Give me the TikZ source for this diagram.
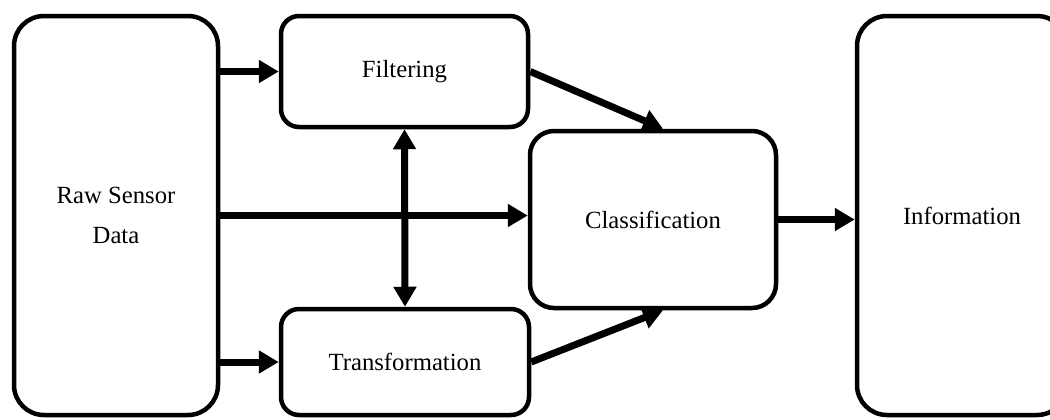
\documentclass[tikz,border=0pt]{standalone}
\usepackage{fontspec}
\setmainfont{Liberation Serif}
\usetikzlibrary{arrows.meta, calc}

\tikzset{
	block/.style={draw, line width=2.25pt, rounded corners=#1, align=center, inner sep=0pt,
		font=\fontsize{12.35}{20}\selectfont},
	block/.default=9pt,
	flow/.style={line width=3.5pt, -{Triangle[length=10pt, width=11pt]}},
	flowboth/.style={line width=3.5pt, {Triangle[length=10pt, width=11pt]}-{Triangle[length=10pt, width=11pt]}}
}

\begin{document}
\begin{tikzpicture}[x=0.5pt, y=-0.5pt]
	\useasboundingbox (0,0) rectangle (1050,419);
	\node (raw) at (116,215.5) [block=15pt, minimum width=102pt, minimum height=199.5pt] {Raw Sensor\\Data};
	\node (filt) at (404.5,71.5) [block, minimum width=123.5pt, minimum height=55.5pt] {Filtering};
	\node (transf) at (405,362) [block, minimum width=124pt, minimum height=53pt] {Transformation};
	\node (clas) at (653,219.5) [block=12pt, minimum width=123pt, minimum height=88.5pt] {Classification};
	\node (info) at (962,215.5) [block=15pt, minimum width=105pt, minimum height=199.5pt] {Information};
	\draw [flow] (filt.west -| raw.east) -- (filt.west);
	\draw [flow] (transf.west -| raw.east) -- (transf.west);
	\draw [flow] (raw.east) -- (raw.east -| clas.west);
	\draw [flow] (filt.east) -- ($(clas.north)+(10,0)$);
	\draw [flow] (transf.east) -- ($(clas.south)+(10,0)$);
	\draw [flowboth] (filt.south) -- (transf.north);
	\draw [flow] (clas.east) -- (clas.east -| info.west);
\end{tikzpicture}
\end{document}
